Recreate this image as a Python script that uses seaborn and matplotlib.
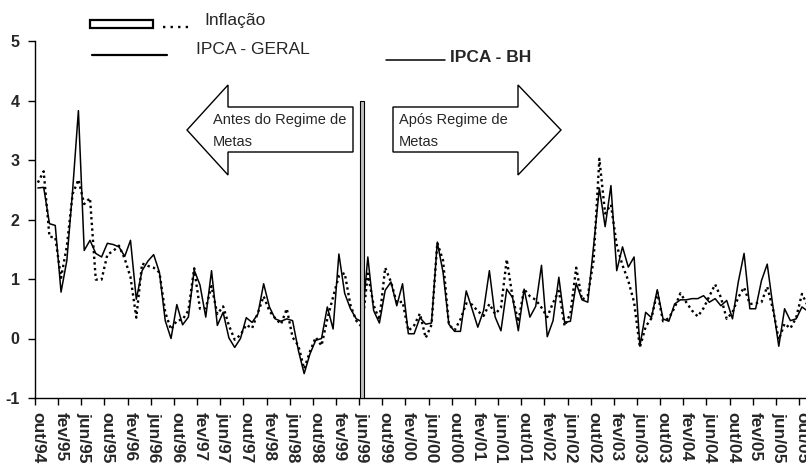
import matplotlib

matplotlib.use("Agg")

import matplotlib.pyplot as plt
import numpy as np
import pandas as pd
import seaborn as sns
from matplotlib.lines import Line2D
from matplotlib.patches import Polygon, Rectangle

# ==========================================================
# Data (monthly, out/94 .. nov/05)
# ==========================================================

IPCA_GERAL = [
    2.62, 2.81, 1.71,
    1.70, 1.02, 1.55, 2.43, 2.67, 2.26, 2.36, 0.99, 0.99, 1.41, 1.47, 1.56,
    1.34, 1.03, 0.35, 1.26, 1.22, 1.19, 1.11, 0.44, 0.15, 0.30, 0.32, 0.47,
    1.18, 0.50, 0.51, 0.88, 0.41, 0.54, 0.22, -0.02, 0.06, 0.23, 0.17, 0.43,
    0.71, 0.46, 0.34, 0.24, 0.50, 0.02, -0.12, -0.51, -0.22, 0.02, -0.12, 0.33,
    0.70, 1.05, 1.10, 0.56, 0.30, 0.19, 1.09, 0.56, 0.31, 1.19, 0.95, 0.60,
    0.62, 0.13, 0.22, 0.42, 0.01, 0.23, 1.61, 1.31, 0.23, 0.14, 0.32, 0.59,
    0.57, 0.46, 0.38, 0.58, 0.41, 0.52, 1.33, 0.70, 0.28, 0.83, 0.71, 0.65,
    0.52, 0.36, 0.60, 0.80, 0.21, 0.42, 1.19, 0.65, 0.72, 1.31, 3.02, 2.10,
    2.25, 1.57, 1.23, 0.97, 0.61, -0.15, 0.20, 0.34, 0.78, 0.29, 0.34, 0.52,
    0.76, 0.61, 0.47, 0.37, 0.51, 0.71, 0.91, 0.69, 0.33, 0.44, 0.69, 0.86,
    0.58, 0.59, 0.61, 0.87, 0.49, -0.02, 0.25, 0.17, 0.35, 0.75, 0.55,
]

IPCA_BH = [
    2.53, 2.54, 1.93,
    1.90, 0.78, 1.31, 2.49, 3.83, 1.48, 1.65, 1.43, 1.37, 1.60, 1.58, 1.54,
    1.38, 1.65, 0.66, 1.14, 1.30, 1.41, 1.11, 0.30, 0.00, 0.57, 0.23, 0.36,
    1.15, 0.90, 0.36, 1.14, 0.22, 0.44, 0.01, -0.15, 0.00, 0.35, 0.27, 0.41,
    0.92, 0.53, 0.33, 0.29, 0.33, 0.30, -0.20, -0.59, -0.26, -0.03, 0.00, 0.53,
    0.16, 1.42, 0.76, 0.50, 0.33, 0.28, 1.37, 0.47, 0.26, 0.81, 0.95, 0.55,
    0.92, 0.08, 0.08, 0.35, 0.24, 0.26, 1.62, 1.11, 0.24, 0.12, 0.12, 0.80,
    0.50, 0.19, 0.47, 1.14, 0.36, 0.13, 0.83, 0.69, 0.13, 0.83, 0.36, 0.54,
    1.23, 0.03, 0.30, 1.03, 0.27, 0.29, 0.93, 0.65, 0.61, 1.55, 2.53, 1.88,
    2.57, 1.14, 1.54, 1.20, 1.37, -0.13, 0.44, 0.35, 0.82, 0.33, 0.29, 0.58,
    0.65, 0.65, 0.67, 0.67, 0.72, 0.61, 0.67, 0.55, 0.64, 0.33, 0.95, 1.43,
    0.50, 0.50, 0.97, 1.25, 0.53, -0.13, 0.50, 0.30, 0.33, 0.53, 0.46,
]

TICK_LABELS = [
    "out/94", "fev/95", "jun/95", "out/95", "fev/96", "jun/96", "out/96",
    "fev/97", "jun/97", "out/97", "fev/98", "jun/98", "out/98", "fev/99",
    "jun/99", "out/99", "fev/00", "jun/00", "out/00", "fev/01", "jun/01",
    "out/01", "fev/02", "jun/02", "out/02", "fev/03", "jun/03", "out/03",
    "fev/04", "jun/04", "out/04", "fev/05", "jun/05", "out/05",
]

TICK_STEP = 4
REGIME_START = 56  # jun/99

W, H = 806, 469


def px(x, y):
    """Pixel position -> figure fraction."""
    return x / W, 1 - y / H


def main() -> None:
    sns.set_style("ticks")
    plt.rcParams["font.family"] = ["Liberation Sans", "DejaVu Sans"]

    df = pd.DataFrame(
        {
            "mes": np.arange(len(IPCA_GERAL)),
            "geral": IPCA_GERAL,
            "bh": IPCA_BH,
        }
    )

    fig = plt.figure(figsize=(W / 100, H / 100), dpi=100)
    ax = fig.add_axes([35 / W, 1 - 398 / H, (W - 35) / W, (398 - 41) / H])

    sns.lineplot(
        data=df, x="mes", y="geral", ax=ax, color="black",
        linewidth=1.7, linestyle=(0, (1, 1.4)),
    )
    sns.lineplot(
        data=df, x="mes", y="bh", ax=ax, color="black", linewidth=1.1,
    )

    # regime separator bar
    ax.add_patch(
        Rectangle(
            (REGIME_START - 0.3, -1), 0.6, 5.0,
            facecolor="#c0c0c0", edgecolor="black", linewidth=0.8, zorder=5,
        )
    )

    # axes
    ax.set_xlim(-0.5, 132.7)
    ax.set_ylim(-1, 5)
    ax.set_xlabel("")
    ax.set_ylabel("")

    label_pos = np.arange(len(TICK_LABELS)) * TICK_STEP
    ax.set_xticks(label_pos - 0.5)
    ax.set_xticklabels([])
    ax.set_xticks(label_pos, minor=True)
    ax.set_xticklabels(
        TICK_LABELS, minor=True, rotation=-90, fontweight="bold", fontsize=12.5,
    )
    ax.tick_params(axis="x", which="major", length=5, width=1, color="black")
    ax.tick_params(axis="x", which="minor", length=0, pad=10)

    ax.set_yticks(range(-1, 6))
    ax.set_yticklabels(
        [str(v) for v in range(-1, 6)], fontweight="bold", fontsize=11.5,
    )
    ax.tick_params(axis="y", length=5, width=1, color="black", pad=6)

    for side in ("top", "right"):
        ax.spines[side].set_visible(False)
    for side in ("left", "bottom"):
        ax.spines[side].set_color("black")
        ax.spines[side].set_linewidth(1)

    # arrows
    left_arrow = [(187, 130), (228, 85), (228, 107), (353, 107),
                  (353, 152), (228, 152), (228, 175)]
    right_arrow = [(393, 107), (518, 107), (518, 85), (561, 130),
                   (518, 175), (518, 152), (393, 152)]
    for verts in (left_arrow, right_arrow):
        fig.add_artist(
            Polygon(
                [px(x, y) for x, y in verts], closed=True,
                transform=fig.transFigure, facecolor="white",
                edgecolor="black", linewidth=1,
            )
        )

    fig.text(*px(213, 120), "Antes do Regime de", fontsize=10.5, va="center")
    fig.text(*px(213, 142), "Metas", fontsize=10.5, va="center")
    fig.text(*px(399, 120), "Após Regime de", fontsize=10.5, va="center")
    fig.text(*px(399, 142), "Metas", fontsize=10.5, va="center")

    # hand-made legend
    x0, y0 = px(90, 28)
    fig.add_artist(
        Rectangle(
            (x0, y0), 63 / W, 8 / H, transform=fig.transFigure,
            facecolor="white", edgecolor="black", linewidth=1.6,
        )
    )
    (a, b), (c, d) = px(163, 27), px(189, 27)
    fig.add_artist(
        Line2D([a, c], [b, d], transform=fig.transFigure, color="black",
               linewidth=1.7, linestyle=(0, (1, 2.2)))
    )
    fig.text(*px(204, 21), "Inflação", fontsize=12.5, va="center")

    (a, b), (c, d) = px(92, 55), px(167, 55)
    fig.add_artist(
        Line2D([a, c], [b, d], transform=fig.transFigure, color="black",
               linewidth=1.6)
    )
    fig.text(*px(196, 49), "IPCA - GERAL", fontsize=12.5, va="center")

    (a, b), (c, d) = px(386, 60), px(445, 60)
    fig.add_artist(
        Line2D([a, c], [b, d], transform=fig.transFigure, color="black",
               linewidth=1.1)
    )
    fig.text(*px(450, 57), "IPCA - BH", fontsize=12.5, va="center",
             fontweight="bold")

    fig.savefig("out.png", dpi=100)
    plt.close(fig)


if __name__ == "__main__":
    main()
